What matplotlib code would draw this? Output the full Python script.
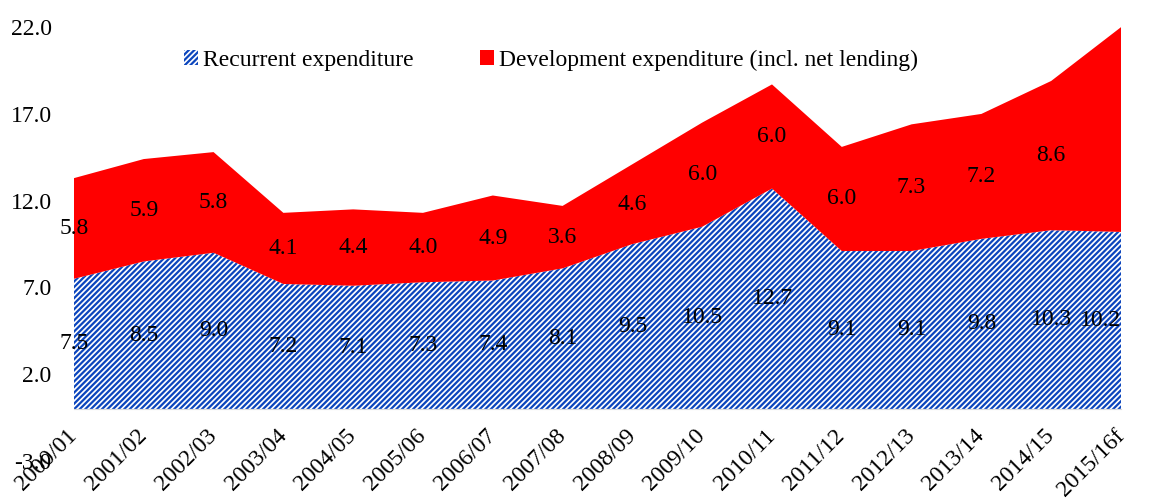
import matplotlib
matplotlib.use('Agg')
import matplotlib.pyplot as plt
from matplotlib.patches import Patch
import numpy as np

plt.rcParams['font.family'] = ['Liberation Serif', 'DejaVu Serif']
plt.rcParams['font.size'] = 17
plt.rcParams['hatch.linewidth'] = 1.6
plt.rcParams['hatch.color'] = '#0b45bd'

years = ['2000/01', '2001/02', '2002/03', '2003/04', '2004/05', '2005/06', '2006/07', '2007/08',
         '2008/09', '2009/10', '2010/11', '2011/12', '2012/13', '2013/14', '2014/15', '2015/16f']
recurrent = [7.5, 8.5, 9.0, 7.2, 7.1, 7.3, 7.4, 8.1, 9.5, 10.5, 12.7, 9.1, 9.1, 9.8, 10.3, 10.2]
development = [5.8, 5.9, 5.8, 4.1, 4.4, 4.0, 4.9, 3.6, 4.6, 6.0, 6.0, 6.0, 7.3, 7.2, 8.6, 11.8]
yticks = [-3.0, 2.0, 7.0, 12.0, 17.0, 22.0]

x = np.arange(len(years))
rec = np.array(recurrent)
dev = np.array(development)

fig = plt.figure(figsize=(11.54, 5.03), dpi=100)
ax = fig.add_axes([0.0641, 0.0835, 0.9073, 0.8625])

ax.fill_between(x, 0, rec, facecolor='white', edgecolor='#0b45bd', hatch='//////', lw=0)
ax.fill_between(x, rec, rec + dev, facecolor='#ff0000', edgecolor='none', lw=0)

# data labels at the middle of each band
for i in range(len(x)):
    ha = 'right' if i == len(x) - 1 else 'center'
    ax.text(x[i], rec[i] / 2, '%.1f' % rec[i], ha=ha, va='center')
    if i < len(x) - 1:
        ax.text(x[i], rec[i] + dev[i] / 2, '%.1f' % dev[i], ha='center', va='center')

ax.set_xlim(x[0], x[-1])
ax.set_ylim(-3, 22)
ax.set_yticks(yticks)
ax.set_yticklabels(['%.1f' % v for v in yticks])

ax.spines['bottom'].set_position(('data', 0))
ax.spines['bottom'].set_color('#d9d9d9')
for sp in ['top', 'right', 'left']:
    ax.spines[sp].set_visible(False)

ax.set_xticks(x)
ax.set_xticklabels(years, rotation=45, ha='right', va='center', rotation_mode='anchor')
ax.tick_params(axis='x', length=0, pad=17)
ax.tick_params(axis='y', length=0, pad=16)

handles = [Patch(facecolor='white', edgecolor='#0b45bd', hatch='//////', lw=0, label='Recurrent expenditure'),
           Patch(facecolor='#ff0000', edgecolor='none', label='Development expenditure (incl. net lending)')]
fig.legend(handles=handles, loc='center', bbox_to_anchor=(551 / 1154, 0.88), ncol=2, frameon=False,
           handlelength=0.6, handleheight=0.6, handletextpad=0.2, columnspacing=2.8)

fig.savefig('out.png', dpi=100)
